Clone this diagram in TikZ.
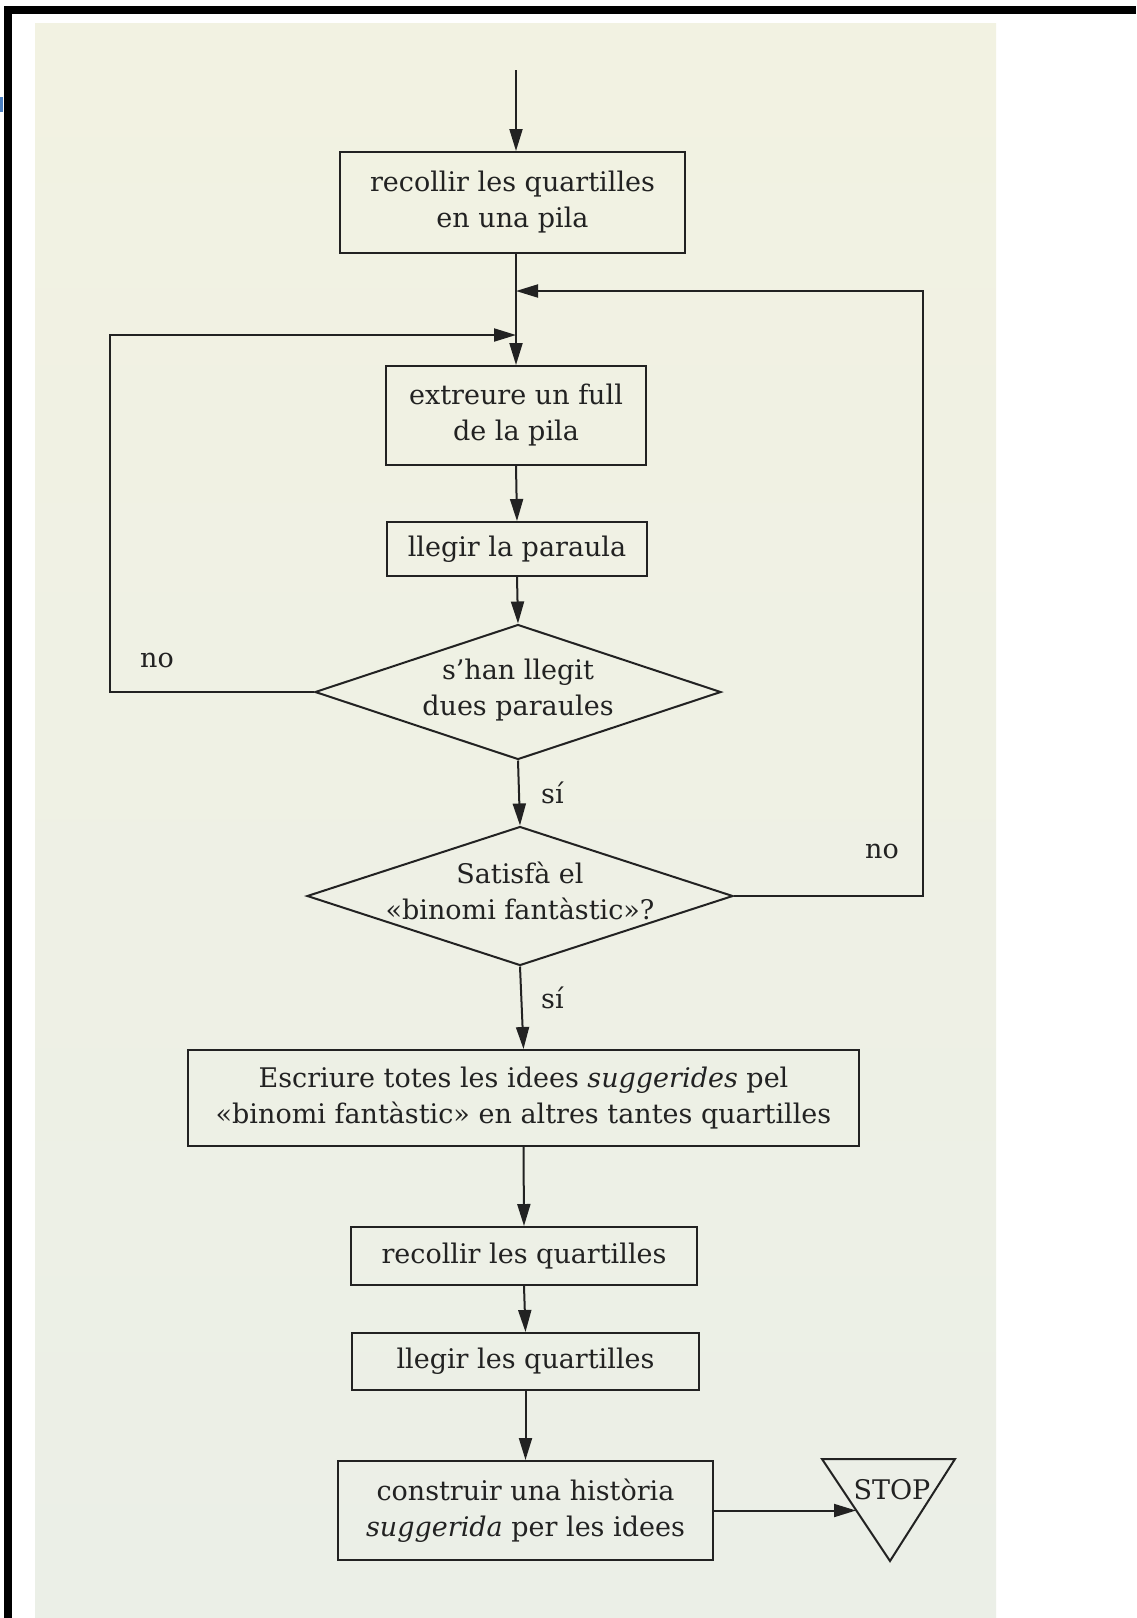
\documentclass[tikz,border=0pt]{standalone}
\usepackage{fontspec}
\setmainfont{DejaVu Serif}
\usetikzlibrary{arrows.meta,shapes.geometric,calc}
\definecolor{inkc}{RGB}{34,34,34}
\definecolor{papertop}{RGB}{242,242,226}
\definecolor{paperbot}{RGB}{235,239,231}
\definecolor{bluec}{RGB}{74,127,193}
\begin{document}
\begin{tikzpicture}[x=1pt,y=-1pt,
  ln/.style={line width=2pt, draw=inkc},
  arr/.style={ln, -{Triangle[length=22pt,width=13pt]}},
  txt/.style={font=\fontsize{27}{36}\selectfont, text=inkc},
  box/.style={txt, draw=inkc, line width=2pt, rectangle, align=center, inner sep=0pt},
  dia/.style={draw=inkc, line width=2pt, diamond, inner sep=0pt},
  lbl/.style={txt, inner sep=0pt},
]
\useasboundingbox (0,0) rectangle (1136,1618);
\fill[white] (0,0) rectangle (1136,1618);
\shade[top color=papertop, bottom color=paperbot] (35,23) rectangle (996,1618);
\fill[black] (4,6) rectangle (1136,14);
\fill[black] (4,6) rectangle (12,1618);
\fill[bluec] (0,97) rectangle (3,112);

% nodes
\node[box, minimum width=345pt, minimum height=101pt] (b1) at (512.5,202.5) {recollir les quartilles\\en una pila};
\node[box, minimum width=260pt, minimum height=99pt] (b2) at (516,415.5) {extreure un full\\de la pila};
\node[box, minimum width=260pt, minimum height=54pt] (b3) at (517,549) {llegir la paraula};
\node[dia, minimum width=406pt, minimum height=135pt] (d1) at (518,692) {};
\node[lbl, align=center] (t1) at (518,690) {s'han llegit\\dues paraules};
\node[dia, minimum width=426pt, minimum height=139pt] (d2) at (520,896) {};
\node[lbl, align=center] (t2) at (520,891) {Satisfà el\\«binomi fantàstic»?};
\node[box, minimum width=671pt, minimum height=96pt] (b4) at (523.5,1098) {Escriure totes les idees \textit{suggerides} pel\\«binomi fantàstic» en altres tantes quartilles};
\node[box, minimum width=346pt, minimum height=58pt] (b5) at (524,1256) {recollir les quartilles};
\node[box, minimum width=347pt, minimum height=57pt] (b6) at (525.5,1361.5) {llegir les quartilles};
\node[box, minimum width=375pt, minimum height=99pt] (b7) at (525.5,1510.5) {construir una història\\\textit{suggerida} per les idees};

% STOP triangle
\coordinate (sA) at (822,1459);
\coordinate (sB) at (955,1459);
\coordinate (sC) at (890,1561);
\draw[ln, line join=miter] (sA) -- (sB) -- (sC) -- cycle;
\node[lbl] (stop) at (892,1490) {STOP};
\coordinate (stopin) at (856,1510.5);

% labels
\node[lbl, anchor=base west] (no1) at (140,667) {no};
\node[lbl, anchor=base west] (no2) at (865,858) {no};
\node[lbl, anchor=base west] (si1) at (541,803) {sí};
\node[lbl, anchor=base west] (si2) at (541,1008) {sí};

% junctions
\coordinate (start) at (516,70);
\coordinate (jR) at (516,291);
\coordinate (jL) at (516,335);
\coordinate (cR) at (923,291);
\coordinate (cL) at (110,335);

% connectors
\draw[arr] (start) -- (b1.north -| start);
\draw[arr] (b1.south -| b2.north) -- (b2.north);
\draw[arr] (b2.south) -- (b3.north);
\draw[arr] (b3.south) -- (d1.north);
\draw[arr] (d1.south) -- (d2.north);
\draw[arr] (d2.south) -- (b4.north);
\draw[arr] (b4.south) -- (b5.north);
\draw[arr] (b5.south) -- (b6.north);
\draw[arr] (b6.south) -- (b7.north);
\draw[arr] (b7.east) -- (stopin);
\draw[arr] (d2.east) -| (cR) -- (jR);
\draw[arr] (d1.west) -| (cL) -- (jL);
\end{tikzpicture}
\end{document}
